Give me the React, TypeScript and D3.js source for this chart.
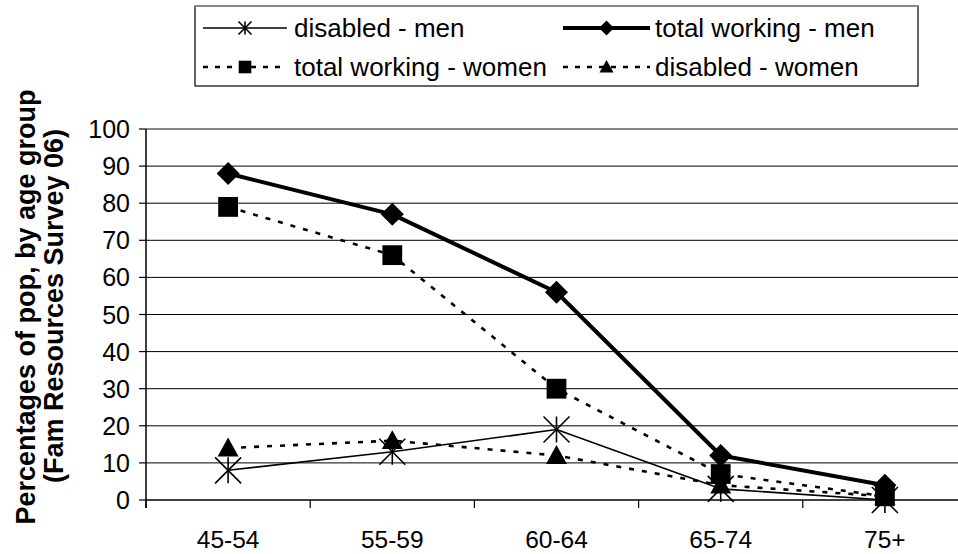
import React from "react";
import * as d3 from "d3";

const categories = ["45-54", "55-59", "60-64", "65-74", "75+"];
const disabledMen = [8, 13, 19, 3, 0];
const totalWorkingMen = [88, 77, 56, 12, 4];
const totalWorkingWomen = [79, 66, 30, 7, 1];
const disabledWomen = [14, 16, 12, 4, 1];
const yTicks = [0, 10, 20, 30, 40, 50, 60, 70, 80, 90, 100];
const yTitle1 = "Percentages of pop, by age group";
const yTitle2 = "(Fam Resources Survey 06)";

const W = 958;
const H = 554;
const FONT = "'Liberation Sans', Arial, sans-serif";

type Marker = "asterisk" | "diamond" | "square" | "triangle";

function MarkerShape({ kind, x, y, s }: { kind: Marker; x: number; y: number; s: number }) {
  const h = s / 2;
  if (kind === "asterisk") {
    return (
      <g stroke="#000" strokeWidth={1.6} fill="none">
        <line x1={x - h} y1={y - h} x2={x + h} y2={y + h} />
        <line x1={x - h} y1={y + h} x2={x + h} y2={y - h} />
        <line x1={x} y1={y - h} x2={x} y2={y + h} />
      </g>
    );
  }
  if (kind === "diamond") {
    return <path d={`M${x},${y - h}L${x + h},${y}L${x},${y + h}L${x - h},${y}Z`} fill="#000" />;
  }
  if (kind === "square") {
    return <rect x={x - h * 0.9} y={y - h * 0.9} width={s * 0.9} height={s * 0.9} fill="#000" />;
  }
  return <path d={`M${x},${y - h}L${x + h},${y + h * 0.8}L${x - h},${y + h * 0.8}Z`} fill="#000" />;
}

const series = [
  { name: "disabled - men", values: disabledMen, marker: "asterisk" as Marker, width: 1.6, dash: "", size: 26 },
  { name: "total working - men", values: totalWorkingMen, marker: "diamond" as Marker, width: 4, dash: "", size: 23 },
  { name: "total working - women", values: totalWorkingWomen, marker: "square" as Marker, width: 2.6, dash: "5,8", size: 22 },
  { name: "disabled - women", values: disabledWomen, marker: "triangle" as Marker, width: 2.6, dash: "5,8", size: 21 },
];

export default function App() {
  const plotLeft = 146;
  const plotRight = 967;
  const y = d3.scaleLinear().domain([0, 100]).range([500, 129]);
  const x = d3.scaleBand().domain(categories).range([plotLeft, plotRight]);
  const cx = (c: string) => (x(c) as number) + x.bandwidth() / 2;
  const line = d3
    .line<number>()
    .x((_, i) => cx(categories[i]))
    .y((v) => y(v));

  const legendItems = [
    { s: series[0], lx: 203, rx: 287, ty: 28, tx: 294 },
    { s: series[1], lx: 563, rx: 650, ty: 28, tx: 655 },
    { s: series[2], lx: 203, rx: 287, ty: 67, tx: 294 },
    { s: series[3], lx: 563, rx: 650, ty: 67, tx: 655 },
  ];
  const legendMarkerSize: Record<Marker, number> = { asterisk: 13, diamond: 15, square: 14, triangle: 14 };

  return (
    <div style={{ position: "absolute", left: 0, top: 0, width: W, height: H, overflow: "hidden", background: "#fff" }}>
      <svg width={W} height={H} style={{ display: "block" }} fontFamily={FONT}>
        <rect x={0} y={0} width={W} height={H} fill="#fff" />
        {/* gridlines */}
        {yTicks.filter((t) => t !== 0 && t !== 100).map((t) => (
          <line key={t} x1={plotLeft} x2={plotRight} y1={y(t)} y2={y(t)} stroke="#000" strokeWidth={1} />
        ))}
        <line x1={plotLeft} x2={plotRight} y1={y(100)} y2={y(100)} stroke="#888" strokeWidth={2} />
        {/* y axis */}
        <line x1={plotLeft} x2={plotLeft} y1={y(100)} y2={y(0) + 8} stroke="#000" strokeWidth={1.5} />
        {yTicks.map((t) => (
          <g key={t}>
            <line x1={plotLeft - 7} x2={plotLeft} y1={y(t)} y2={y(t)} stroke="#000" strokeWidth={1.2} />
            <text x={130} y={y(t)} dy="0.36em" textAnchor="end" fontSize={25} fill="#000">
              {t}
            </text>
          </g>
        ))}
        {/* x axis */}
        <line x1={plotLeft} x2={plotRight} y1={y(0)} y2={y(0)} stroke="#000" strokeWidth={1.5} />
        {categories.map((c, i) => (
          <g key={c}>
            <line x1={x(c) as number} x2={x(c) as number} y1={y(0)} y2={y(0) + 8} stroke="#000" strokeWidth={1.2} />
            {i === categories.length - 1 && (
              <line x1={plotRight} x2={plotRight} y1={y(0)} y2={y(0) + 8} stroke="#000" strokeWidth={1.2} />
            )}
            <text x={cx(c)} y={548} textAnchor="middle" fontSize={24.5} fill="#000">
              {c}
            </text>
          </g>
        ))}
        {/* y title */}
        <text transform="translate(35,307) rotate(-90)" textAnchor="middle" fontSize={27} fontWeight="bold" fill="#000">
          {yTitle1}
        </text>
        <text transform="translate(63,306) rotate(-90)" textAnchor="middle" fontSize={27} fontWeight="bold" fill="#000">
          {yTitle2}
        </text>
        {/* series lines */}
        {series.map((s) => (
          <path
            key={s.name}
            d={line(s.values) || ""}
            fill="none"
            stroke="#000"
            strokeWidth={s.width}
            strokeDasharray={s.dash || undefined}
            strokeLinejoin="round"
          />
        ))}
        {/* markers */}
        {series.map((s) =>
          s.values.map((v, i) => (
            <MarkerShape key={s.name + i} kind={s.marker} x={cx(categories[i])} y={y(v)} s={s.size} />
          ))
        )}
        {/* legend */}
        <rect x={195} y={6} width={723} height={80} fill="#fff" stroke="#000" strokeWidth={1.2} />
        <line x1={195} x2={918} y1={6} y2={6} stroke="#888" strokeWidth={2} />
        {legendItems.map((it) => (
          <g key={it.s.name}>
            <line
              x1={it.lx}
              x2={it.rx}
              y1={it.ty}
              y2={it.ty}
              stroke="#000"
              strokeWidth={it.s.width}
              strokeDasharray={it.s.dash ? "5,7" : undefined}
            />
            <MarkerShape kind={it.s.marker} x={(it.lx + it.rx) / 2} y={it.ty} s={legendMarkerSize[it.s.marker]} />
            <text x={it.tx} y={it.ty} dy="0.36em" fontSize={26} fill="#000">
              {it.s.name}
            </text>
          </g>
        ))}
      </svg>
    </div>
  );
}
